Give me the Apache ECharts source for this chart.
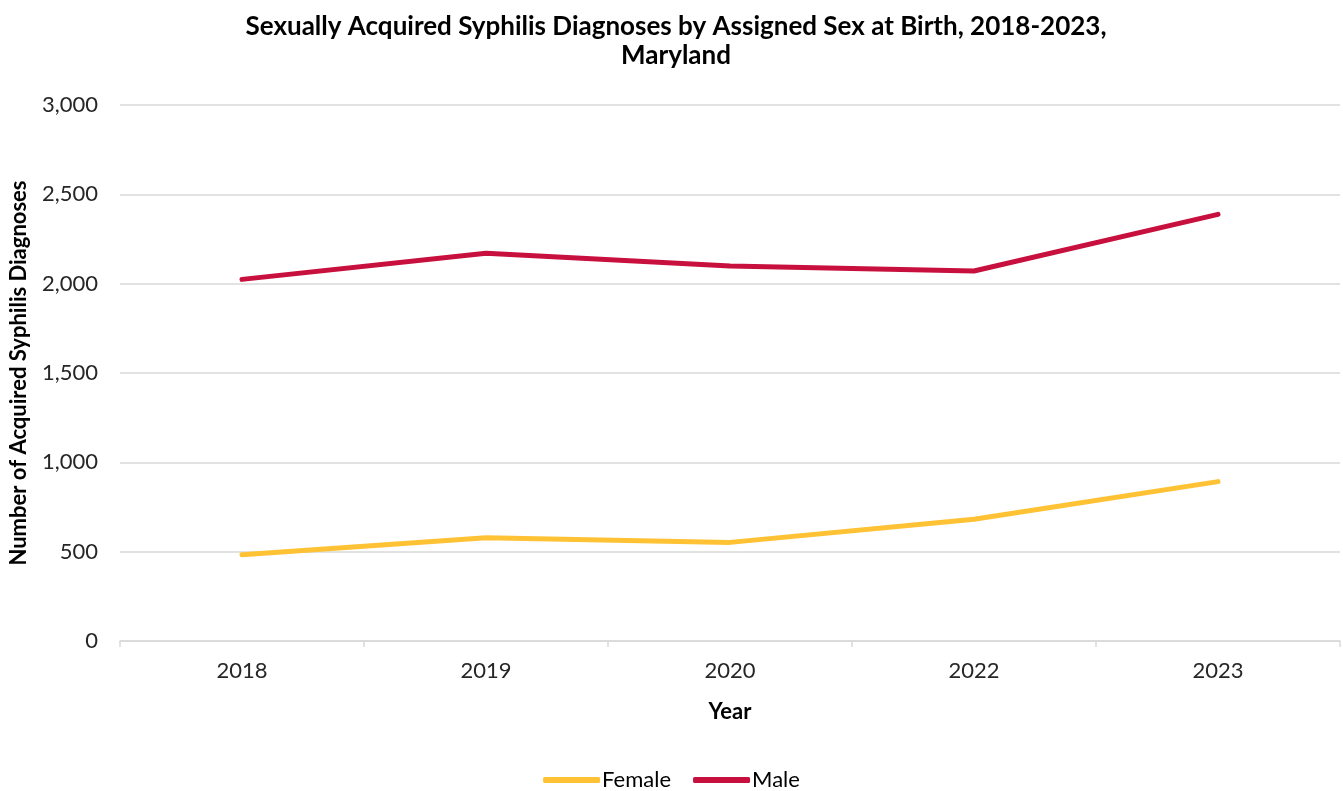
<!DOCTYPE html>
<html>
<head>
<meta charset="utf-8">
<script src="https://cdn.jsdelivr.net/npm/echarts@6/dist/echarts.min.js"></script>
<style>
  html, body { margin: 0; padding: 0; background: #fff; }
  #main { width: 1343px; height: 791px; }
</style>
</head>
<body>
<div id="main"></div>
<script>
// chart data
var years = ['2018', '2019', '2020', '2022', '2023'];
var female = [483, 578, 552, 681, 892];
var male = [2024, 2170, 2099, 2071, 2388];

var chart = echarts.init(document.getElementById('main'));

var font = 'Lato, "Open Sans", sans-serif';

var option = {
  backgroundColor: '#fff',
  title: {
    text: 'Sexually Acquired Syphilis Diagnoses by Assigned Sex at Birth, 2018-2023,\nMaryland',
    left: 671,
    textAlign: 'center',
    top: 7,
    textStyle: {
      fontFamily: font,
      fontSize: 26,
      fontWeight: 'bold',
      color: '#000',
      lineHeight: 29
    }
  },
  legend: {
    top: 764,
    left: 'center',
    icon: 'roundRect',
    itemWidth: 57,
    itemHeight: 6,
    itemGap: 22,
    data: ['Female', 'Male'],
    textStyle: { fontFamily: font, fontSize: 22, color: '#000', padding: [0, 0, 0, -3] }
  },
  grid: {
    left: 117,
    right: 3,
    top: 105,
    bottom: 150
  },
  xAxis: {
    type: 'category',
    data: years,
    boundaryGap: true,
    name: 'Year',
    nameLocation: 'middle',
    nameGap: 60,
    nameTextStyle: { fontFamily: font, fontSize: 22, fontWeight: 'bold', color: '#000' },
    axisLine: { lineStyle: { color: '#d9d9d9', width: 1.5 } },
    axisTick: { show: true, length: 6, lineStyle: { color: '#d9d9d9', width: 1.5 } },
    axisLabel: { fontFamily: font, fontSize: 22, color: '#262626', margin: 19 }
  },
  yAxis: {
    type: 'value',
    min: 0,
    max: 3000,
    interval: 500,
    name: 'Number of Acquired Syphilis Diagnoses',
    nameLocation: 'middle',
    nameGap: 90,
    nameTextStyle: { fontFamily: font, fontSize: 22, fontWeight: 'bold', color: '#000' },
    axisLine: { show: false },
    axisTick: { show: false },
    axisLabel: {
      fontFamily: font,
      fontSize: 22,
      color: '#262626',
      margin: 22,
      formatter: function (v) { return v.toLocaleString('en-US'); }
    },
    splitLine: { lineStyle: { color: '#d9d9d9', width: 1.5 } }
  },
  series: [
    {
      name: 'Female',
      type: 'line',
      data: female,
      symbol: 'none',
      lineStyle: { color: '#FFC234', width: 5, cap: 'round' },
      itemStyle: { color: '#FFC234' }
    },
    {
      name: 'Male',
      type: 'line',
      data: male,
      symbol: 'none',
      lineStyle: { color: '#C8103E', width: 5, cap: 'round' },
      itemStyle: { color: '#C8103E' }
    }
  ]
};

chart.setOption(option);
</script>
</body>
</html>
